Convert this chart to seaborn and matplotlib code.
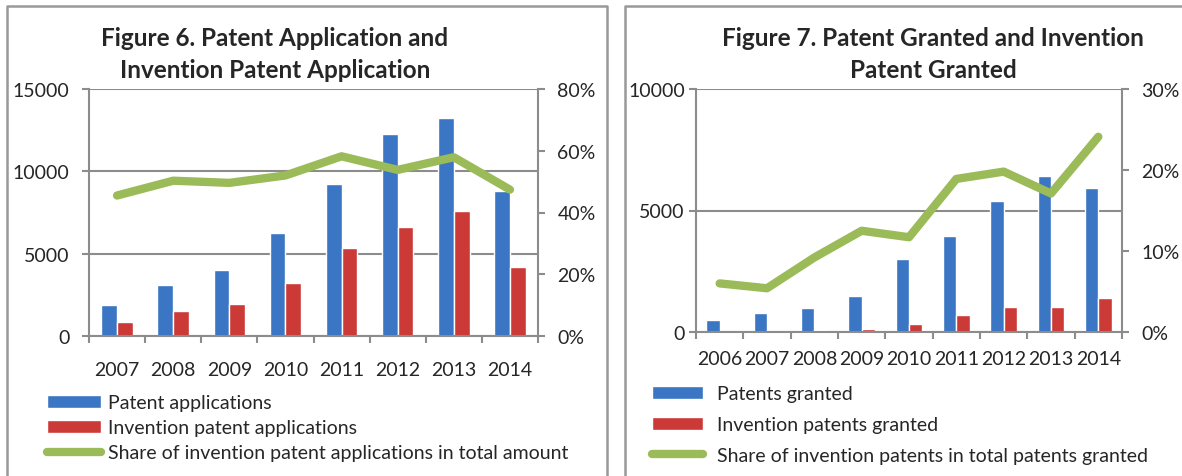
import matplotlib
matplotlib.use("Agg")
import matplotlib.pyplot as plt
from matplotlib.lines import Line2D
from matplotlib.ticker import FuncFormatter
import seaborn as sns
import pandas as pd
import numpy as np

sns.set_style("white")
plt.rcParams['font.family'] = ['Lato', 'DejaVu Sans']

# Figure 6 data
years_app = ["2007", "2008", "2009", "2010", "2011", "2012", "2013", "2014"]
patent_apps = [1860, 3070, 4020, 6270, 9240, 12250, 13260, 8810]
invention_apps = [830, 1540, 1940, 3230, 5320, 6610, 7620, 4160]
share_apps = [0.455, 0.503, 0.496, 0.520, 0.582, 0.538, 0.579, 0.474]

# Figure 7 data
years_gr = ["2006", "2007", "2008", "2009", "2010", "2011", "2012", "2013", "2014"]
patents_granted = [495, 770, 990, 1480, 2990, 3940, 5400, 6430, 5920]
invention_granted = [10, 10, 80, 140, 320, 690, 1020, 1040, 1390]
share_granted = [0.060, 0.054, 0.092, 0.125, 0.117, 0.189, 0.198, 0.171, 0.241]

BLUE = "#3A76C3"
RED = "#CB3A37"
GREEN = "#9BBB59"
GREY = "#8C8C8C"
FS = 14

W, H = 1182, 477
fig = plt.figure(figsize=(W / 100, H / 100), dpi=100)


def px(x0, y0, x1, y1):
    # pixel box -> figure fraction rect
    return [x0 / W, 1 - y1 / H, (x1 - x0) / W, (y1 - y0) / H]


def draw_panel(rect, years, total, inv, share, names, ymax, ystep, smax, sstep, xpad, ypad):
    ax = fig.add_axes(rect)
    df = pd.DataFrame({
        "Year": years * 2,
        "Series": [names[0]] * len(years) + [names[1]] * len(years),
        "Value": total + inv,
    })
    sns.barplot(data=df, x="Year", y="Value", hue="Series",
                palette=[BLUE, RED], width=0.56, saturation=1, ax=ax)
    handles, labels = ax.get_legend_handles_labels()
    ax.get_legend().remove()

    ax.set_ylim(0, ymax)
    ax.set_xlim(-0.5, len(years) - 0.5)
    ax.set_yticks(np.arange(0, ymax + 1, ystep))
    ax.set_xlabel("")
    ax.set_ylabel("")
    ax.grid(axis="y", color=GREY, lw=1.5)
    ax.set_axisbelow(True)
    for s in ["left", "bottom"]:
        ax.spines[s].set_color(GREY)
        ax.spines[s].set_linewidth(1.5)
    ax.spines["top"].set_visible(False)
    ax.spines["right"].set_visible(False)
    ax.tick_params(axis="y", length=5, width=1.5, color=GREY, labelsize=FS, pad=ypad, left=True)
    ax.tick_params(axis="x", length=0, labelsize=FS, pad=xpad)
    ax.set_xticks(np.arange(len(years) + 1) - 0.5, minor=True)
    ax.tick_params(axis="x", which="minor", length=5, width=1.5, color=GREY, bottom=True)

    ax2 = ax.twinx()
    sns.lineplot(x=np.arange(len(years)), y=share, color=GREEN, lw=6,
                 solid_capstyle="round", solid_joinstyle="round", ax=ax2)
    ax2.set_ylim(0, smax)
    ax2.set_yticks(np.arange(0, smax + 1e-9, sstep))
    ax2.yaxis.set_major_formatter(FuncFormatter(lambda v, p: f"{v * 100:.0f}%"))
    for s in ["left", "top", "bottom"]:
        ax2.spines[s].set_visible(False)
    ax2.spines["right"].set_color(GREY)
    ax2.spines["right"].set_linewidth(1.5)
    ax2.tick_params(axis="y", length=5, width=1.5, color=GREY, labelsize=FS, pad=9, right=True)
    ax2.grid(False)

    handles = list(handles) + [Line2D([], [], color=GREEN, lw=6, solid_capstyle="round")]
    labels = list(labels) + [names[2]]
    return ax, handles, labels


# Left panel
_, h1, l1 = draw_panel(px(89, 90, 538, 337), years_app, patent_apps, invention_apps, share_apps,
                       ["Patent applications", "Invention patent applications",
                        "Share of invention patent applications in total amount"],
                       15000, 5000, 0.8, 0.2, 18, 9)
fig.legend(h1, l1, loc="upper left", bbox_to_anchor=(47 / W, 1 - 395 / H), frameon=False,
           fontsize=FS, handlelength=2.8, handleheight=0.65, handletextpad=0.35,
           labelspacing=0.42, borderaxespad=0, borderpad=0)

# Right panel
_, h2, l2 = draw_panel(px(696, 90, 1122, 333), years_gr, patents_granted, invention_granted, share_granted,
                       ["Patents granted", "Invention patents granted",
                        "Share of invention patents in total patents granted"],
                       10000, 5000, 0.3, 0.1, 13, 3)
fig.legend(h2, l2, loc="upper left", bbox_to_anchor=(652 / W, 1 - 386 / H), frameon=False,
           fontsize=FS, handlelength=2.6, handleheight=0.65, handletextpad=0.75,
           labelspacing=0.72, borderaxespad=0, borderpad=0)

# Titles
TFS = 17.5
fig.text(275 / W, 1 - 38 / H, "Figure 6. Patent Application and", ha="center", va="center",
         fontsize=TFS, fontweight="bold")
fig.text(275 / W, 1 - 70 / H, "Invention Patent Application", ha="center", va="center",
         fontsize=TFS, fontweight="bold")
fig.text(933 / W, 1 - 38 / H, "Figure 7. Patent Granted and Invention", ha="center", va="center",
         fontsize=TFS, fontweight="bold")
fig.text(933 / W, 1 - 70 / H, "Patent Granted", ha="center", va="center",
         fontsize=TFS, fontweight="bold")

# Panel borders
border = dict(color="#999999", lw=1.8, transform=fig.transFigure)
fig.add_artist(Line2D([7 / W, 7 / W, 607 / W, 607 / W], [0, 1 - 7 / H, 1 - 7 / H, 0], **border))
fig.add_artist(Line2D([625 / W, 625 / W, 1], [0, 1 - 7 / H, 1 - 7 / H], **border))

fig.savefig("out.png", dpi=100)
